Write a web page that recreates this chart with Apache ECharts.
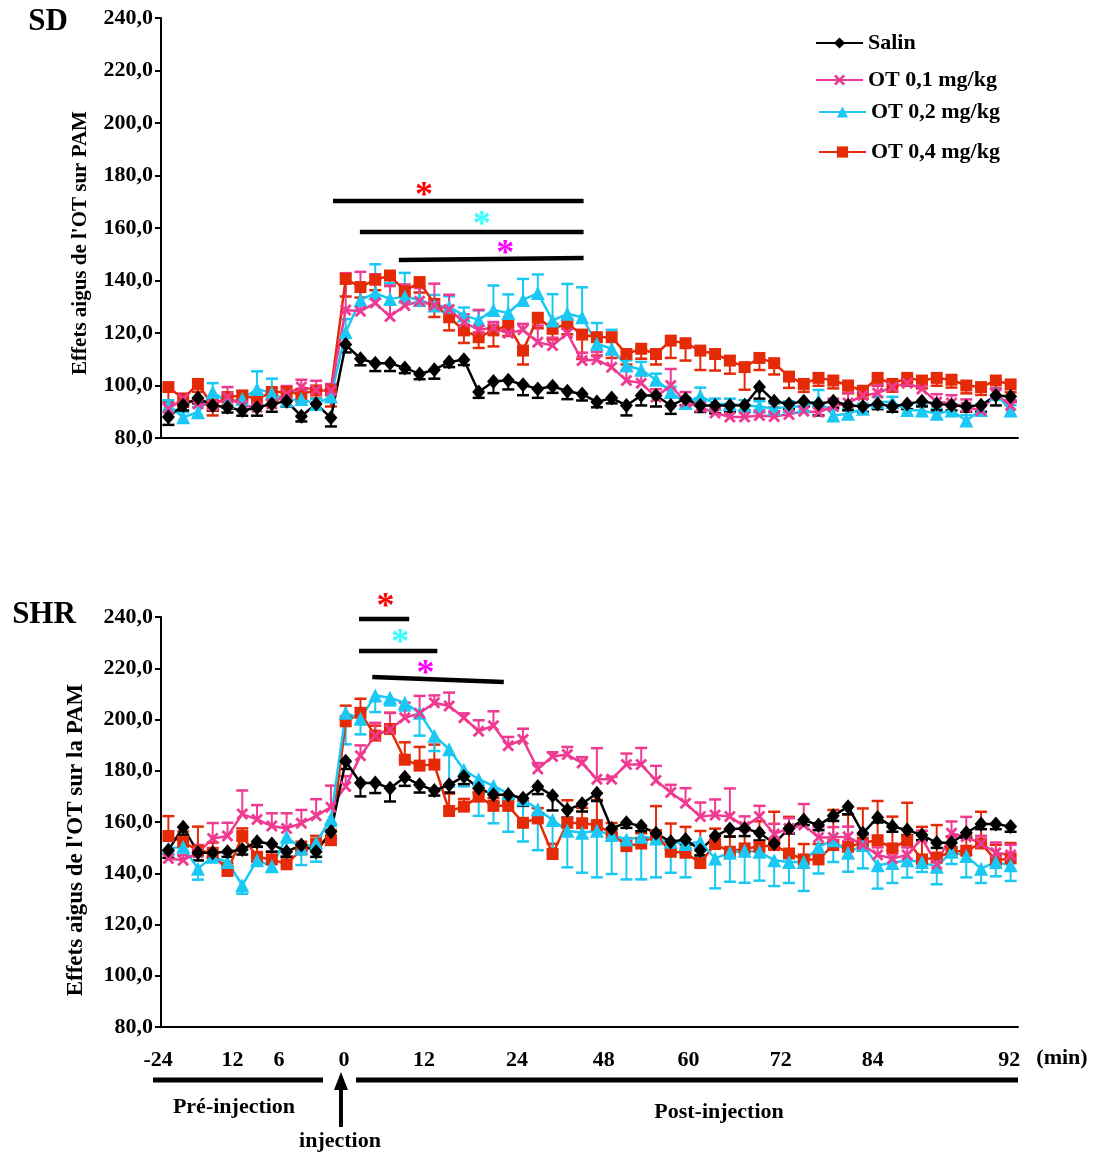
<!DOCTYPE html>
<html><head><meta charset="utf-8">
<script src="https://cdn.jsdelivr.net/npm/echarts@6/dist/echarts.min.js"></script>
<style>html,body{margin:0;padding:0;background:#fff}#c{width:1104px;height:1155px}</style>
</head><body><div id="c"></div>
<script>
// ---------- DATA ----------
const categories = [-24,-22,-20,-18,-16,-14,-12,-10,-8,-6,-4,-2,
  2,4,6,8,10,12,14,16,18,20,22,24,26,28,30,32,34,36,38,40,42,44,46,48,50,
  52,54,56,58,60,62,64,66,68,70,72,74,76,78,80,82,84,86,88,90,92];
const seriesNames = ['Salin','OT 0,1 mg/kg','OT 0,2 mg/kg','OT 0,4 mg/kg'];

// SD panel
const sdSalin = [88,92.5,95.2,92.4,91.7,90.5,91.5,93,94,88.3,
 93,87.7,115.6,110.2,108.5,108.5,106.7,104.4,106,109,
 109.8,97.5,101.5,102,100.3,98.7,99.7,97.8,96.8,93.7,
 95.2,92.4,96.2,96.2,92.4,94.9,92.4,92.4,92.4,92.5,
 99.4,94,93,94,93,94,92.5,92,93,92,
 93,94,93,92.5,92,92.5,96.2,95.8];
const sdSalinErr = [3,2,2,2,2,2,3,3,2,2,
 2,3.3,3,2.5,3,3,2,2,3.4,2,
 2,2.2,4.4,3.5,4,3.4,2.5,3,2.5,2,
 2,3.8,3.8,4.2,3.2,2.5,2.5,3,2.5,2,
 4.4,2.5,2,2,4.4,2.5,2,2,2,2,
 2,2,2.5,2,2,2.5,3.8,2];
const sdLow = [91.1,94.9,93,92.4,95.6,92.4,91.7,93,96.8,99.4,
 98.3,98.1,128.8,128.3,131.4,126.3,130.5,132.1,130.5,129,
 124.1,121.2,122,119.9,121.2,116.5,115.2,119.9,109.5,109.8,
 107,101.9,100.9,95.6,100,93.7,91.7,89.5,88,88,
 88.6,88.2,89,90.2,89.8,92,93.3,96.2,97.1,99.4,
 100.9,98.7,93.7,93.3,91.7,90.5,96.8,92.4];
const sdLowErr = [2,2,2,2,3.8,2,2,3,3,2.8,
 3.5,2.5,14,15,11,11.8,8,5,8.3,5.6,
 3,7.6,2.2,2.5,2.3,6.3,3,3,3,3,
 5,4,3,3,6.3,3.8,2,2,2,2,
 2,2,2,2,2,3,4,3,3,2,
 2,2,3,3,3,2,2,2];
const sdMid = [92.4,87.9,89.8,97.5,93.7,94.9,98.7,97.1,94.3,94.9,
 93,95.8,120.3,132.6,135.2,133,133.9,132.6,130.5,130,
 126.7,125,128.8,127.6,132.6,135.2,124.8,127.3,126,115.9,
 114,107.6,106,102.2,97.5,93.3,96,93,93,92.4,
 92,91.1,92,92,94.3,88.6,89.2,91.1,93.7,93.7,
 90.7,90.5,89.2,90.5,86.7,90.7,96.8,90.5];
const sdMidErr = [2,2,2,3.4,3,3,6.7,5.5,3,3,
 2,2,5,5,11,6,9,5,4,4,
 3,3.6,9.3,7.1,8,7.1,10,11.4,11.4,7.9,
 7.2,2,3,2.3,2,2,3.2,2,2,2,
 2,2,2,2,4,2,2,2,2,2,
 2,2,2,2,2,2,2,2];
const sdHigh = [99.4,94.9,100.6,92.4,95.6,96.2,94.9,97.5,97.5,96.8,
 98.1,98.1,140.6,137.5,140.3,141.9,135.9,139.4,131.1,126,
 121,118.4,121,122.9,113.3,125.8,121.6,123.5,119.4,118.4,
 118.4,112,114,112,117.1,116.1,113.3,112,109.5,107,
 110.5,108.5,103.4,100.6,102.9,101.9,100,98,102.9,100.6,
 102.9,101.9,102.9,102.2,100,99.4,101.9,100.4];
const sdHighErr = [5.7,3,3,3.8,3,3,3,3,3,3,
 3,6.1,6.7,4,4,4,4,4,5,5,
 4.8,4.1,6.1,4,5.3,4,4,4,9.3,7,
 7.9,4,3.8,4,6.6,6.6,7.4,6.3,5,8.6,
 4.6,4.3,4.3,3,3,3,3,3,3,3,
 3,3,3,3,3,3,3,3];

// SHR panel
const shrSalin = [149,158,148,148,148.4,149.3,152.3,151.4,148.4,151,
 148.4,156.2,183.7,175.2,175.2,173.2,177.5,174.5,172.3,174.5,
 177.8,173.2,170.6,170.6,169.3,173.9,170.2,164.7,167.1,171.2,
 157.5,159.7,158.4,155.6,152.3,153.2,149,154.5,157.3,157.5,
 155.8,151.6,157.5,160.8,158.8,162.4,166,155.6,161.8,158.2,
 156.9,154.9,151.9,151.9,155.8,159.2,159.2,158.2];
const shrSalinErr = [3,3,3,2,2,2,2,3,2,2,
 2,3,3,5.2,3.9,5.2,3.4,3,2,3,
 3,2,3,3,3,3,5.7,3,3,3,
 2,2,2,2,3,2,2,3,3,3,
 3,2,2,2,2,2,3,3,2,2,
 2,2,2,2,2,2,2,2];
const shrLow = [145.8,145.1,148,153.6,154.5,163.1,161,158.4,157.5,159.5,
 162.4,165.8,173.9,185.9,193.7,196.1,200.7,202.4,206.5,205.3,
 200.7,195.4,197.6,189.8,192.2,180.7,185.6,186.3,183,176.7,
 176.7,182.4,182.4,176.2,171.5,167.3,162.1,162.7,162.1,158.2,
 162.1,155.3,157.5,158.8,154,154,154.2,151,147.1,145.8,
 147.1,153.6,143.5,155.6,154.2,151.6,148,147.1];
const shrLowErr = [3,2,3,6,5.2,9.2,5.6,5,5.9,5.2,
 6.5,8.4,4,4,5,6.5,5.9,6.8,2.9,5.2,
 1.7,4.3,5.6,3.4,4.2,2.3,1.6,3,2.3,12.1,
 1,4.3,6.5,5.7,3,5.9,5.5,6.1,11,4,
 4.2,4,4,8.2,4,4,4,4,3,3,
 3,3,3,4.6,7.8,3,4,4];
const shrMid = [149.7,150.3,141.8,146.4,144.4,135.3,145.1,142.7,154.2,149.7,
 151.9,161.4,202.6,200.3,209.4,208.5,206.5,202.6,193.7,188.4,
 180.4,176.7,174.1,171.2,168.9,165,160.8,156.6,155.8,156.6,
 154.9,153.2,154.2,153.6,152.3,151.4,152.3,145.8,148,148.8,
 148.4,145.1,144.4,144.4,150.3,152.9,148,151,143.1,144,
 145.1,144.4,142.5,148.4,146.7,141.8,144.4,143.1];
const shrMidErr = [2,2,4.3,2,2,3.3,2,2,7.8,6.5,
 7.4,3,12.3,6.1,6.5,3,3,8.9,6,14.6,
 6.5,14.3,14.6,15,16.5,16,13,14.3,15.6,18.2,
 15.2,15.6,16.6,15.2,12.1,13,5.9,11.7,11.3,12.5,
 11.3,10.1,8.2,11.3,10.4,8.5,7.4,9.1,9.1,7.8,
 6.8,3.9,6.8,4.8,8.3,5.6,5.6,6.1];
const shrHigh = [154.5,152.3,148.8,148,140.9,154.5,146.4,145.4,143.5,149.3,
 151.6,152.9,199.3,202.6,193.7,196.3,184.3,182,182.4,164.3,
 166,169.9,166.3,166.3,159.7,161.4,147.5,159.7,159.5,158.8,
 155.6,150.6,151.6,154.9,148.4,148,144,151.4,148.4,149.7,
 150.3,151,147.7,145.4,145.4,151,150.3,151.9,152.9,149.7,
 152.9,145.4,146.1,148.4,148.8,151.6,145.1,145.8];
const shrHighErr = [7.8,4,9.4,4,3,3,4,3,3,3,
 3,4,6.1,5.5,3.9,6.3,6.8,7.3,7.8,6.8,
 3,3.3,3,3,8.6,4,4,8.8,6,9.8,
 4,3,4,11.3,11,10.1,12.5,6,6,8,
 10,13,14.3,6,6,13.7,12.7,13.4,15.3,12.4,
 14.6,12.7,12.7,6,6,12.4,6,6];

// bottom time labels (text) and the slot (category position) each sits at
const xTickLabels = ['-24','12','6','0','12','24','48','60','72','84','92'];
const xTickSlots  = [-0.7, 4.34, 7.48, 11.88, 17.3, 23.6, 29.47, 35.2, 41.45, 47.67, 56.9];

// ---------- STYLE / LAYOUT ----------
const FONT = '"Liberation Serif","Times New Roman",serif';
const N = categories.length;
const colors = ['#000000','#ef3a92','#1ac8f3','#e42a06'];
const crossPath = 'path://M0,2 L2,0 L6,4 L10,0 L12,2 L8,6 L12,10 L10,12 L6,8 L2,12 L0,10 L4,6 Z';
const symbols = ['diamond', crossPath, 'triangle', 'rect'];
const symSizes = [[13,15], 12, 14, 12];

const panels = [
  {title:'SD', titlePos:[48,22], grid:{left:161, top:18, width:857, height:420},
   yName:"Effets aigus de l'OT sur PAM", nameGap:70, nameSize:21, namePad:[0,30,0,0],
   data:[sdSalin, sdLow, sdMid, sdHigh], err:[sdSalinErr, sdLowErr, sdMidErr, sdHighErr], dir:[-1,1,1,-1],
   bars:[[11.14,28.1,170.3,170.3,'#ff0000',17.3,172],[12.96,28.1,158.5,158.5,'#33ffff',21.2,161],[15.6,28.1,147.8,148.6,'#ff00ff',22.8,150]]},
  {title:'SHR', titlePos:[44,615], grid:{left:161, top:617, width:857, height:410},
   yName:"Effets aigus de l'OT sur la PAM", nameGap:73, nameSize:23, namePad:[0,36,0,0],
   data:[shrSalin, shrLow, shrMid, shrHigh], err:[shrSalinErr, shrLowErr, shrMidErr, shrHighErr], dir:[-1,1,-1,1],
   bars:[[12.9,16.3,239.2,239.2,'#ff0000',14.7,243.5],[12.9,18.2,226.7,226.7,'#33ffff',15.7,229.5],[13.8,22.7,216.6,214.6,'#ff00ff',17.4,217.5]]}
];

function px(g, slot){ return g.left + (slot + 0.5) * g.width / N; }
function py(g, v){ return g.top + g.height * (240 - v) / 160; }

function errRender(dir, color){
  return function(params, api){
    const i = api.value(0), v = api.value(1), e = api.value(2);
    const p0 = api.coord([i, v]);
    const p1 = api.coord([i, v + dir * e]);
    const hw = 6;
    return {type:'group', children:[
      {type:'line', shape:{x1:p0[0],y1:p0[1],x2:p1[0],y2:p1[1]}, style:{stroke:color, lineWidth:2}},
      {type:'line', shape:{x1:p1[0]-hw,y1:p1[1],x2:p1[0]+hw,y2:p1[1]}, style:{stroke:color, lineWidth:2.5}}
    ]};
  };
}

const grids = [], xAxes = [], yAxes = [], series = [], graphics = [];
panels.forEach((p, k) => {
  grids.push(Object.assign({containLabel:false}, p.grid));
  xAxes.push({type:'category', gridIndex:k, data:categories, boundaryGap:true,
    axisLine:{lineStyle:{color:'#000', width:2}},
    axisTick:{interval:0, length:5, lineStyle:{color:'#000', width:1.5}},
    axisLabel:{show:false}, splitLine:{show:false}});
  yAxes.push({type:'value', gridIndex:k, min:80, max:240, interval:20,
    name:p.yName, nameLocation:'middle', nameGap:p.nameGap, nameRotate:90,
    nameTextStyle:{fontFamily:FONT, fontWeight:'bold', fontSize:p.nameSize, color:'#000', padding:p.namePad},
    axisLine:{show:true, lineStyle:{color:'#000', width:2}},
    axisTick:{show:true, length:6, lineStyle:{color:'#000', width:2}},
    axisLabel:{fontFamily:FONT, fontWeight:'bold', fontSize:22, color:'#000', margin:8,
      formatter: v => v.toFixed(1).replace('.', ',')},
    splitLine:{show:false}});
  [3,2,1,0].forEach(s => {
    series.push({type:'custom', name:seriesNames[s]+' err', xAxisIndex:k, yAxisIndex:k,
      renderItem: errRender(p.dir[s], colors[s]), encode:{x:0, y:1},
      data: p.data[s].map((v,i) => [i, v, p.err[s][i]]), z:2, silent:true});
  });
  [3,2,1,0].forEach(s => {
    series.push({type:'line', name:seriesNames[s], xAxisIndex:k, yAxisIndex:k,
      data:p.data[s], symbol:symbols[s], symbolSize:symSizes[s], showAllSymbol:true,
      lineStyle:{color:colors[s], width:2.5}, itemStyle:{color:colors[s], borderWidth:0},
      z:3, animation:false});
  });
  graphics.push({type:'text', x:p.titlePos[0], y:p.titlePos[1],
    style:{text:p.title, font:'bold 31px '+FONT, fill:'#000', align:'center', verticalAlign:'middle'}});
  p.bars.forEach(b => {
    graphics.push({type:'line', shape:{x1:px(p.grid,b[0]), y1:py(p.grid,b[2]), x2:px(p.grid,b[1]), y2:py(p.grid,b[3])},
      style:{stroke:'#000', lineWidth:4.5}});
    graphics.push({type:'text', x:px(p.grid,b[5]), y:py(p.grid,b[6]),
      style:{text:'*', font:'bold 36px '+FONT, fill:b[4], align:'center', verticalAlign:'middle'}});
  });
});

const g2 = panels[1].grid;
xTickLabels.forEach((t, i) => {
  graphics.push({type:'text', x:px(g2, xTickSlots[i]), y:1060,
    style:{text:t, font:'bold 22px '+FONT, fill:'#000', align:'center', verticalAlign:'middle'}});
});
graphics.push({type:'text', x:1062, y:1058, style:{text:'(min)', font:'bold 22px '+FONT, fill:'#000', align:'center', verticalAlign:'middle'}});
graphics.push({type:'line', shape:{x1:px(g2,-1.04), y1:1080, x2:px(g2,10.46), y2:1080}, style:{stroke:'#000', lineWidth:5}});
graphics.push({type:'line', shape:{x1:px(g2,12.7), y1:1080, x2:px(g2,57.5), y2:1080}, style:{stroke:'#000', lineWidth:5}});
const ax = px(g2, 11.68);
graphics.push({type:'line', shape:{x1:ax, y1:1086, x2:ax, y2:1127}, style:{stroke:'#000', lineWidth:4}});
graphics.push({type:'polygon', shape:{points:[[ax,1072],[ax-7,1090],[ax+7,1090]]}, style:{fill:'#000'}});
graphics.push({type:'text', x:234, y:1107, style:{text:'Pré-injection', font:'bold 22px '+FONT, fill:'#000', align:'center', verticalAlign:'middle'}});
graphics.push({type:'text', x:340, y:1141, style:{text:'injection', font:'bold 22px '+FONT, fill:'#000', align:'center', verticalAlign:'middle'}});
graphics.push({type:'text', x:719, y:1112, style:{text:'Post-injection', font:'bold 22px '+FONT, fill:'#000', align:'center', verticalAlign:'middle'}});

const legendBase = {orient:'horizontal', itemWidth:47, itemHeight:14, padding:0, itemGap:0,
  textStyle:{fontFamily:FONT, fontWeight:'bold', fontSize:22, color:'#000'}, selectedMode:false};
const legendTops = [32, 69, 101, 141];
const legendLefts = [815, 815, 818, 818];
const legends = seriesNames.map((n, i) => Object.assign({}, legendBase, {data:[n], left:legendLefts[i], top:legendTops[i]}));

const chart = echarts.init(document.getElementById('c'), null, {renderer:'canvas'});
chart.setOption({
  backgroundColor:'#fff', animation:false,
  grid:grids, xAxis:xAxes, yAxis:yAxes, series:series, legend:legends, graphic:graphics
});
</script></body></html>
